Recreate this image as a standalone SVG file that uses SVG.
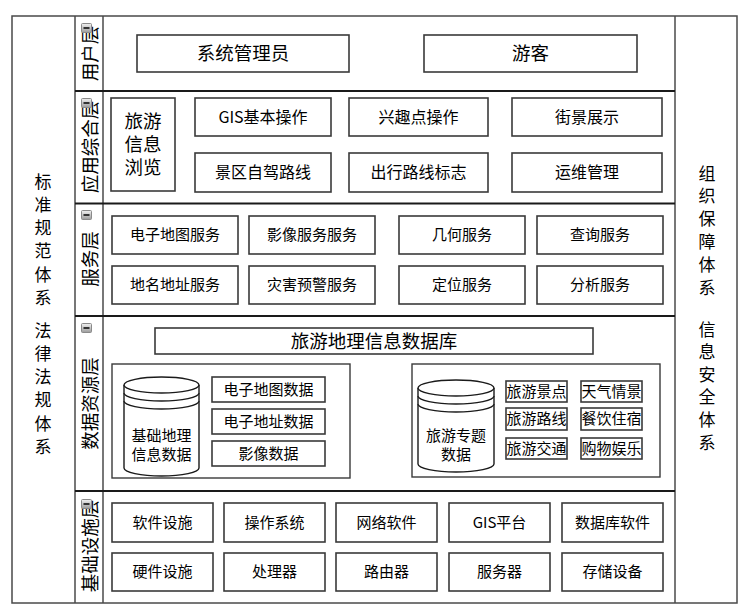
<svg xmlns="http://www.w3.org/2000/svg" xmlns:xlink="http://www.w3.org/1999/xlink" width="749" height="614" viewBox="0 0 749 614">
  <style>
    .t, .rl { font-family: "Noto Sans CJK SC", "Noto Sans", sans-serif; text-anchor: middle; dominant-baseline: central; fill: #000; }
    .t { transform: translateY(-1.5px); }
    .box { fill: #fff; stroke: #3a3a3a; stroke-width: 1.6; }
    .grp { fill: #fff; stroke: #3a3a3a; stroke-width: 1.4; }
    .frame { fill: none; stroke: #4a4a4a; stroke-width: 1.5; }
    .div { fill: none; stroke: #1a1a1a; stroke-width: 2; }
    .cyl { fill: #fff; stroke: #1a1a1a; stroke-width: 1.4; }
    .f15 { font-size: 15px; }
    .f16 { font-size: 16px; }
    .f17 { font-size: 17px; }
    .f18 { font-size: 18.5px; }
  </style>
  <defs>
    <linearGradient id="iconFill" x1="0" y1="0" x2="0" y2="1">
      <stop offset="0" stop-color="#f2f2f2"/>
      <stop offset="1" stop-color="#9a9a9a"/>
    </linearGradient>
    <!-- collapse toggle shown at the top of each layer label -->
    <g id="toggle">
      <rect x="0.5" y="0.5" width="10" height="9" rx="1" fill="url(#iconFill)" stroke="#8a8a8a" stroke-width="1"/>
      <rect x="2.5" y="4" width="6" height="2" fill="#333"/>
    </g>
  </defs>

  <rect width="749" height="614" fill="#fff"/>

  <!-- outer frame: side columns, label column, main area -->
  <g id="frame">
    <rect class="frame" x="12" y="16" width="725" height="587"/>
    <line class="frame" x1="75" y1="16" x2="75" y2="603"/>
    <line class="frame" x1="103" y1="16" x2="103" y2="603" stroke="#1a1a1a"/>
    <line class="frame" x1="675" y1="16" x2="675" y2="603" stroke="#1a1a1a"/>
    <path class="div" d="M75 91H675M75 203.5H675M75 316H675M75 491H675"/>
  </g>

  <!-- left column -->
  <g id="standards">
    <text class="t f17"><tspan x="43" y="181">标</tspan><tspan x="43" dy="23.3">准</tspan><tspan x="43" dy="23.3">规</tspan><tspan x="43" dy="23.3">范</tspan><tspan x="43" dy="23.3">体</tspan><tspan x="43" dy="23.3">系</tspan></text>
  </g>
  <g id="laws">
    <text class="t f17"><tspan x="43" y="330">法</tspan><tspan x="43" dy="23.3">律</tspan><tspan x="43" dy="23.3">法</tspan><tspan x="43" dy="23.3">规</tspan><tspan x="43" dy="23.3">体</tspan><tspan x="43" dy="23.3">系</tspan></text>
  </g>

  <!-- right column -->
  <g id="organization">
    <text class="t f17"><tspan x="707" y="173">组</tspan><tspan x="707" dy="22.8">织</tspan><tspan x="707" dy="22.8">保</tspan><tspan x="707" dy="22.8">障</tspan><tspan x="707" dy="22.8">体</tspan><tspan x="707" dy="22.8">系</tspan></text>
  </g>
  <g id="security">
    <text class="t f17"><tspan x="707" y="329">信</tspan><tspan x="707" dy="22.6">息</tspan><tspan x="707" dy="22.6">安</tspan><tspan x="707" dy="22.6">全</tspan><tspan x="707" dy="22.6">体</tspan><tspan x="707" dy="22.6">系</tspan></text>
  </g>

  <!-- layer labels -->
  <g id="label-user">
    <text class="rl f18" transform="translate(88.5 53.5) rotate(-90)">用户层</text>
    <use xlink:href="#toggle" x="81" y="23"/>
  </g>
  <g id="label-app">
    <text class="rl f18" transform="translate(88.5 147) rotate(-90)">应用综合层</text>
    <use xlink:href="#toggle" x="81" y="98"/>
  </g>
  <g id="label-service">
    <text class="rl f18" transform="translate(88.5 259) rotate(-90)">服务层</text>
    <use xlink:href="#toggle" x="81" y="210"/>
  </g>
  <g id="label-data">
    <text class="rl f18" transform="translate(88.5 403.5) rotate(-90)">数据资源层</text>
    <use xlink:href="#toggle" x="81" y="323"/>
  </g>
  <g id="label-infra">
    <text class="rl f18" transform="translate(88.5 546) rotate(-90)">基础设施层</text>
    <use xlink:href="#toggle" x="81" y="499"/>
  </g>

  <!-- user layer -->
  <g id="admin"><rect class="box" x="137" y="35" width="212" height="37"/><text class="t f18" x="243" y="53.5">系统管理员</text></g>
  <g id="tourist"><rect class="box" x="424" y="35" width="213" height="37"/><text class="t f18" x="530.5" y="53.5">游客</text></g>

  <!-- application layer -->
  <g id="browse">
    <rect class="box" x="111" y="98" width="64" height="93"/>
    <text class="t" font-size="18.5" x="143" y="121">旅游</text>
    <text class="t" font-size="18.5" x="143" y="144">信息</text>
    <text class="t" font-size="18.5" x="143" y="167">浏览</text>
  </g>
  <g id="gis-basic"><rect class="box" x="195" y="98" width="136" height="38"/><text class="t f16" x="263" y="117">GIS基本操作</text></g>
  <g id="poi"><rect class="box" x="349" y="98" width="139" height="38"/><text class="t f16" x="418.5" y="117">兴趣点操作</text></g>
  <g id="streetview"><rect class="box" x="512" y="98" width="150" height="38"/><text class="t f16" x="587" y="117">街景展示</text></g>
  <g id="self-drive"><rect class="box" x="195" y="153" width="136" height="39"/><text class="t f16" x="263" y="172.5">景区自驾路线</text></g>
  <g id="route-sign"><rect class="box" x="349" y="153" width="139" height="39"/><text class="t f16" x="418.5" y="172.5">出行路线标志</text></g>
  <g id="ops"><rect class="box" x="512" y="153" width="150" height="39"/><text class="t f16" x="587" y="172.5">运维管理</text></g>

  <!-- service layer -->
  <g id="svc-map"><rect class="box" x="112" y="216" width="126" height="38"/><text class="t f15" x="175" y="235">电子地图服务</text></g>
  <g id="svc-image"><rect class="box" x="249" y="216" width="126" height="38"/><text class="t f15" x="312" y="235">影像服务服务</text></g>
  <g id="svc-geom"><rect class="box" x="399" y="216" width="126" height="38"/><text class="t f15" x="462" y="235">几何服务</text></g>
  <g id="svc-query"><rect class="box" x="537" y="216" width="126" height="38"/><text class="t f15" x="600" y="235">查询服务</text></g>
  <g id="svc-geocode"><rect class="box" x="112" y="266" width="126" height="38"/><text class="t f15" x="175" y="285">地名地址服务</text></g>
  <g id="svc-warning"><rect class="box" x="249" y="266" width="126" height="38"/><text class="t f15" x="312" y="285">灾害预警服务</text></g>
  <g id="svc-locate"><rect class="box" x="399" y="266" width="126" height="38"/><text class="t f15" x="462" y="285">定位服务</text></g>
  <g id="svc-analysis"><rect class="box" x="537" y="266" width="126" height="38"/><text class="t f15" x="600" y="285">分析服务</text></g>

  <!-- data resource layer -->
  <g id="tourism-db"><rect class="box" x="155" y="328" width="438" height="26"/><text class="t f18" x="374" y="341">旅游地理信息数据库</text></g>

  <g id="base-data">
    <rect class="grp" x="112" y="364" width="238" height="114"/>
    <g id="base-cylinder">
      <path class="cyl" d="M124 385A37.5 8 0 0 1 199 385V468A37.5 8 0 0 1 124 468Z"/>
      <path class="cyl" fill="none" d="M124 385A37.5 8 0 0 0 199 385M124 393A37.5 8 0 0 0 199 393M124 401A37.5 8 0 0 0 199 401"/>
      <text class="t f15"><tspan x="161.5" y="435">基础地理</tspan><tspan x="161.5" dy="19">信息数据</tspan></text>
    </g>
    <g id="map-data"><rect class="box" x="212" y="377" width="113" height="25"/><text class="t f15" x="268.5" y="389.5">电子地图数据</text></g>
    <g id="addr-data"><rect class="box" x="212" y="409" width="113" height="25"/><text class="t f15" x="268.5" y="421.5">电子地址数据</text></g>
    <g id="image-data"><rect class="box" x="212" y="441" width="113" height="25"/><text class="t f15" x="268.5" y="453.5">影像数据</text></g>
  </g>

  <g id="theme-data">
    <rect class="grp" x="412" y="364" width="248" height="113"/>
    <g id="theme-cylinder">
      <path class="cyl" d="M418 388A38 8 0 0 1 494 388V464A38 8 0 0 1 418 464Z"/>
      <path class="cyl" fill="none" d="M418 388A38 8 0 0 0 494 388M418 396A38 8 0 0 0 494 396M418 404A38 8 0 0 0 494 404"/>
      <text class="t f15"><tspan x="456" y="435">旅游专题</tspan><tspan x="456" dy="19">数据</tspan></text>
    </g>
    <g id="spots"><rect class="box" x="506" y="381" width="61" height="21"/><text class="t f15" x="536.5" y="391.5">旅游景点</text></g>
    <g id="weather"><rect class="box" x="581" y="381" width="61" height="21"/><text class="t f15" x="611.5" y="391.5">天气情景</text></g>
    <g id="routes"><rect class="box" x="506" y="408" width="61" height="22"/><text class="t f15" x="536.5" y="419">旅游路线</text></g>
    <g id="dining"><rect class="box" x="581" y="408" width="61" height="22"/><text class="t f15" x="611.5" y="419">餐饮住宿</text></g>
    <g id="transport"><rect class="box" x="506" y="438" width="61" height="21"/><text class="t f15" x="536.5" y="448.5">旅游交通</text></g>
    <g id="shopping"><rect class="box" x="581" y="438" width="61" height="21"/><text class="t f15" x="611.5" y="448.5">购物娱乐</text></g>
  </g>

  <!-- infrastructure layer -->
  <g id="software"><rect class="box" x="112" y="503" width="101" height="39"/><text class="t f15" x="162.5" y="522.5">软件设施</text></g>
  <g id="os"><rect class="box" x="224" y="503" width="101" height="39"/><text class="t f15" x="274.5" y="522.5">操作系统</text></g>
  <g id="net-sw"><rect class="box" x="336" y="503" width="101" height="39"/><text class="t f15" x="386.5" y="522.5">网络软件</text></g>
  <g id="gis-platform"><rect class="box" x="449" y="503" width="101" height="39"/><text class="t f15" x="499.5" y="522.5">GIS平台</text></g>
  <g id="dbms"><rect class="box" x="562" y="503" width="101" height="39"/><text class="t f15" x="612.5" y="522.5">数据库软件</text></g>
  <g id="hardware"><rect class="box" x="112" y="553" width="101" height="38"/><text class="t f15" x="162.5" y="572">硬件设施</text></g>
  <g id="cpu"><rect class="box" x="224" y="553" width="101" height="38"/><text class="t f15" x="274.5" y="572">处理器</text></g>
  <g id="router"><rect class="box" x="336" y="553" width="101" height="38"/><text class="t f15" x="386.5" y="572">路由器</text></g>
  <g id="server"><rect class="box" x="449" y="553" width="101" height="38"/><text class="t f15" x="499.5" y="572">服务器</text></g>
  <g id="storage"><rect class="box" x="562" y="553" width="101" height="38"/><text class="t f15" x="612.5" y="572">存储设备</text></g>

  <!-- no connectors in this layered diagram -->
  <g id="connectors"/>
</svg>
